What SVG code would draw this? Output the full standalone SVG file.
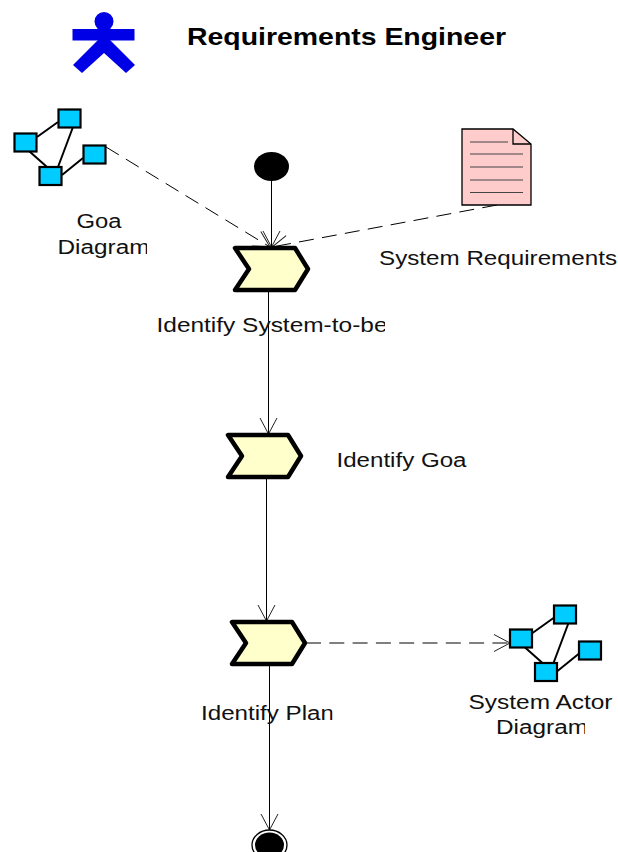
<svg xmlns="http://www.w3.org/2000/svg" width="618" height="852" viewBox="0 0 618 852">
<style>
text{font-family:"Liberation Sans",Arial,sans-serif;font-size:19.500px;fill:#111}
.title{font-size:24px;font-weight:bold;fill:#000}
.chev{fill:#ffffcc;stroke:#000;stroke-width:4.500;stroke-linejoin:round}
.sq{fill:#00ccff;stroke:#000;stroke-width:2.200}
.wire{stroke:#000;stroke-width:2;fill:none}
.conn{stroke:#000;stroke-width:1;fill:none}
.dash{stroke-dasharray:15 8.300}
.rule{stroke:#444;stroke-width:1}
</style>
<defs>
<marker id="open" markerUnits="userSpaceOnUse" markerWidth="24" markerHeight="24" refX="20" refY="10" orient="auto" overflow="visible">
<path d="M4 1.500L20 10L4 18.500" fill="none" stroke="#222" stroke-width="1"/>
</marker>
<g id="net">
<path class="wire" d="M37 137L58 122M29 151L47 167M73 127L58 167M62 175L83 158"/>
<rect class="sq" x="58.500" y="109.500" width="22" height="18"/>
<rect class="sq" x="14.500" y="133.500" width="22" height="18"/>
<rect class="sq" x="39.500" y="167" width="22" height="18"/>
<rect class="sq" x="83.500" y="145.500" width="22" height="18"/>
</g>
<path id="chevron" class="chev" d="M235 248H295L308 269L295 290H235L249 269Z"/>
<clipPath id="c1"><rect x="40" y="235" width="107" height="30"/></clipPath>
<clipPath id="c2"><rect x="150" y="310" width="235" height="32"/></clipPath>
<clipPath id="c3"><rect x="190" y="700" width="142.500" height="32"/></clipPath>
<clipPath id="c4"><rect x="480" y="715" width="105" height="30"/></clipPath>
</defs>
<g id="connectors">
<path class="conn" d="M271.500 181V247" marker-end="url(#open)"/>
<path class="conn dash" d="M106 147L270 247" marker-end="url(#open)"/>
<path class="conn dash" d="M497 205L272 247" marker-end="url(#open)"/>
<path class="conn" d="M268.500 291V434" marker-end="url(#open)"/>
<path class="conn" d="M266.500 478V621" marker-end="url(#open)"/>
<path class="conn" d="M269.500 666V830" marker-end="url(#open)"/>
<path class="conn dash" d="M306 643H510" marker-end="url(#open)"/>
</g>
<g id="actor">
<circle cx="104" cy="21.500" r="9.500" fill="#0000e6"/>
<rect x="72.500" y="29" width="62" height="11.500" fill="#0000e6"/>
<path d="M98 40H110L135 65L126 73L104 53L82 73L73 65Z" fill="#0000e6"/>
<text class="title" x="187" y="45" textLength="319" lengthAdjust="spacingAndGlyphs">Requirements Engineer</text>
</g>
<g id="goal-diagram">
<use href="#net"/>
<text x="76.500" y="228" textLength="45" lengthAdjust="spacingAndGlyphs">Goa</text>
<g clip-path="url(#c1)"><text x="57.500" y="254" textLength="92" lengthAdjust="spacingAndGlyphs">Diagram</text></g>
</g>
<g id="start"><ellipse cx="271.500" cy="166.500" rx="17.500" ry="14.500" fill="#000"/></g>
<g id="system-requirements">
<path d="M462 129H513L531 144V205H462Z" fill="#ffcccc" stroke="#000" stroke-width="1.300"/>
<path d="M513 129V144H531" fill="none" stroke="#000" stroke-width="1.300"/>
<path class="rule" d="M470 142H508M470 154H523M470 167H523M470 180H523M470 192.500H523"/>
<text x="379" y="265" textLength="238" lengthAdjust="spacingAndGlyphs">System Requirements</text>
</g>
<g id="identify-system">
<use href="#chevron"/>
<g clip-path="url(#c2)"><text x="156.500" y="332" textLength="231" lengthAdjust="spacingAndGlyphs">Identify System-to-be</text></g>
</g>
<g id="identify-goal">
<use href="#chevron" transform="translate(-7 187)"/>
<text x="336.500" y="467" textLength="130" lengthAdjust="spacingAndGlyphs">Identify Goa</text>
</g>
<g id="identify-plan">
<use href="#chevron" transform="translate(-3 374)"/>
<g clip-path="url(#c3)"><text x="201" y="720" textLength="133" lengthAdjust="spacingAndGlyphs">Identify Plan</text></g>
</g>
<g id="system-actor-diagram">
<use href="#net" transform="translate(495.500 496)"/>
<text x="468.500" y="709" textLength="144" lengthAdjust="spacingAndGlyphs">System Actor</text>
<g clip-path="url(#c4)"><text x="496" y="734" textLength="92" lengthAdjust="spacingAndGlyphs">Diagram</text></g>
</g>
<g id="end">
<ellipse cx="269.500" cy="845" rx="17.500" ry="15" fill="#fff" stroke="#000" stroke-width="1.300"/>
<ellipse cx="269.500" cy="845" rx="14.500" ry="12.500" fill="#000"/>
</g>
</svg>
